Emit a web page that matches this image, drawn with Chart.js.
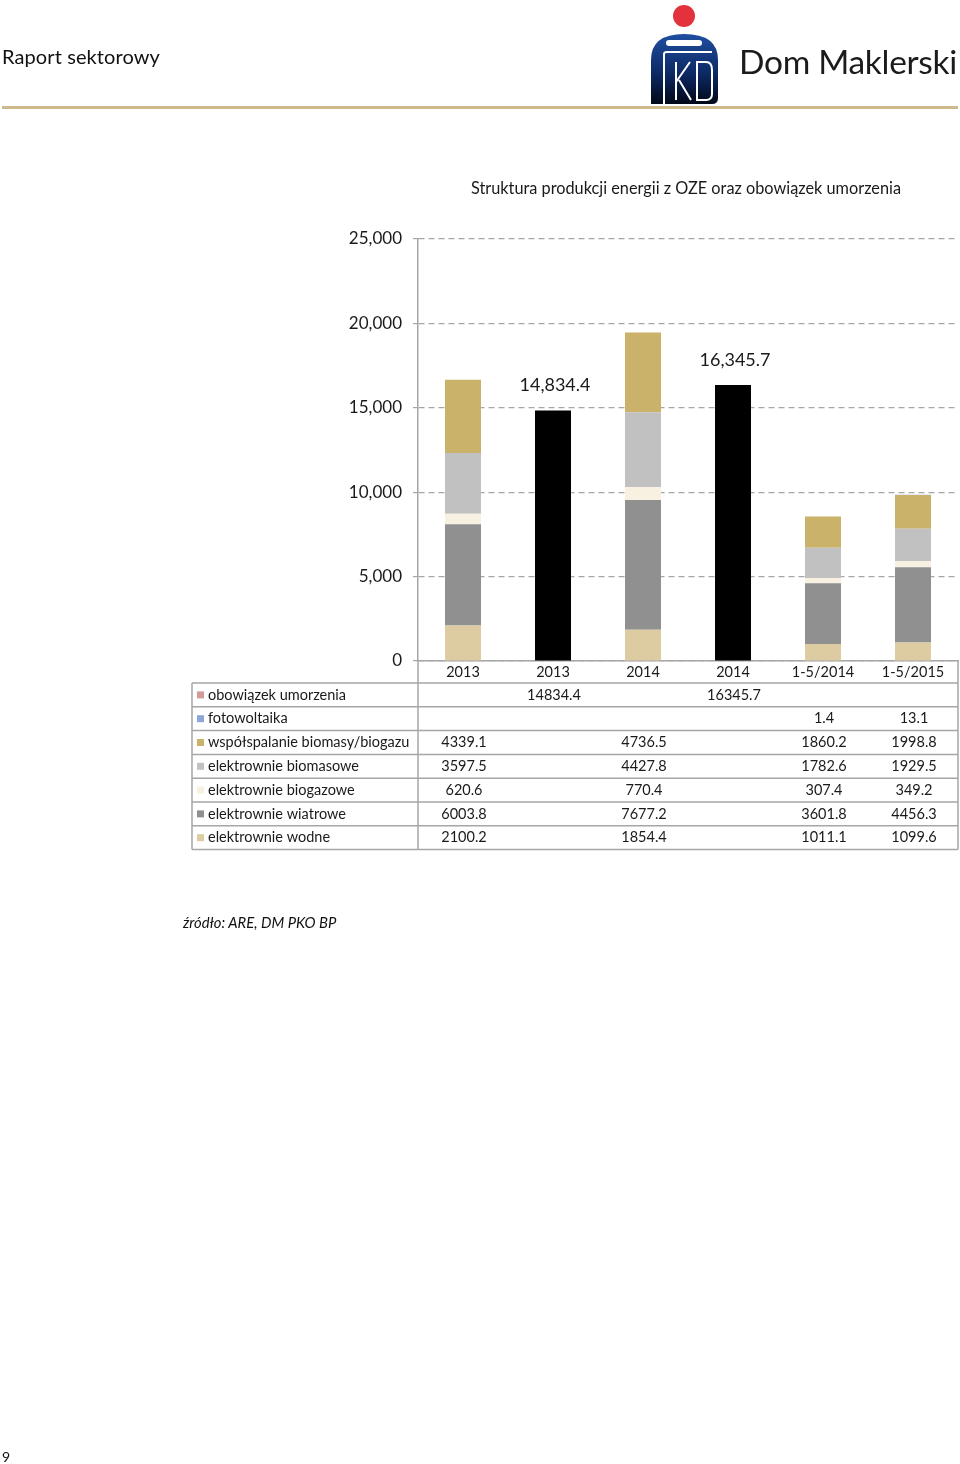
<!DOCTYPE html>
<html>
<head>
<meta charset="utf-8">
<script src="https://cdn.jsdelivr.net/npm/chart.js@4"></script>
<style>
  html, body { margin:0; padding:0; background:#fff; }
  body { width:960px; height:1464px; position:relative; overflow:hidden; font-family:Lato, "Open Sans", sans-serif; color:#1a1a1a; }
  #c { position:absolute; left:0; top:0; }
  .hdr { position:absolute; left:2px; top:44px; font-size:20px; letter-spacing:0.1px; color:#111; }
  .dm { position:absolute; left:739px; top:41px; font-size:33.5px; color:#1b1b1b; letter-spacing:-0.3px; }
  .rule { position:absolute; left:2px; top:106px; width:956px; height:3px; background:#cdb98a; }
  .src { position:absolute; left:183px; top:913px; font-size:14.8px; font-style:italic; color:#111; }
  .pg { position:absolute; left:2px; top:1448px; font-size:14px; color:#111; }
  svg { position:absolute; left:0; top:0; }
</style>
</head>
<body>
<canvas id="c" width="960" height="1464"></canvas>
<div class="hdr">Raport sektorowy</div>
<svg width="960" height="112">
  <defs>
    <linearGradient id="g" x1="0" y1="0" x2="0" y2="1">
      <stop offset="0" stop-color="#1f4fa0"/>
      <stop offset="0.55" stop-color="#0d2a66"/>
      <stop offset="1" stop-color="#020818"/>
    </linearGradient>
  </defs>
  <circle cx="684" cy="16" r="11" fill="#e3323b"/>
  <path d="M651,104 L651,60 Q651,34 684,34 Q718,34 718,60 L718,98 Q718,104 712,104 Z" fill="url(#g)"/>
  <rect x="666" y="40" width="36" height="6" rx="3" fill="#fff"/>
  <path d="M664,104 L664,54 Q664,52 667,52 L712,52" stroke="#fff" stroke-width="2" fill="none"/>
  <path d="M676,62 L676,100 M676,82 L690,62 M679,80 L691,100" stroke="#fff" stroke-width="2" fill="none"/>
  <path d="M697,62 L706,62 Q712,62 712,70 L712,94 Q712,100 706,100 L697,100 Z" stroke="#fff" stroke-width="2" fill="none"/>
</svg>
<div class="dm">Dom Maklerski</div>
<div class="rule"></div>
<div class="src">źródło: ARE, DM PKO BP</div>
<div class="pg">9</div>
<script>
// ---- data ----
const categories = ["2013", "2013", "2014", "2014", "1-5/2014", "1-5/2015"];
const obowiazekUmorzenia = [null, 14834.4, null, 16345.7, null, null];
const fotowoltaika = [null, null, null, null, 1.4, 13.1];
const wspolspalanie = [4339.1, null, 4736.5, null, 1860.2, 1998.8];
const elektrownieBiomasowe = [3597.5, null, 4427.8, null, 1782.6, 1929.5];
const elektrownieBiogazowe = [620.6, null, 770.4, null, 307.4, 349.2];
const elektrownieWiatrowe = [6003.8, null, 7677.2, null, 3601.8, 4456.3];
const elektrownieWodne = [2100.2, null, 1854.4, null, 1011.1, 1099.6];
const yTicks = [0, 5000, 10000, 15000, 20000, 25000];
const chartTitle = "Struktura produkcji energii z OZE oraz obowiązek umorzenia";

// stacking order: bottom -> top
const seriesDefs = [
  { label: "elektrownie wodne", data: elektrownieWodne, color: "#ddcba2", swatch: "#ddcba2" },
  { label: "elektrownie wiatrowe", data: elektrownieWiatrowe, color: "#909090", swatch: "#909090" },
  { label: "elektrownie biogazowe", data: elektrownieBiogazowe, color: "#f8f0e1", swatch: "#f8f0e1" },
  { label: "elektrownie biomasowe", data: elektrownieBiomasowe, color: "#c1c1c1", swatch: "#c1c1c1" },
  { label: "współspalanie biomasy/biogazu", data: wspolspalanie, color: "#cab26b", swatch: "#cab26b" },
  { label: "fotowoltaika", data: fotowoltaika, color: "#8ea6d6", swatch: "#8ea6d6" },
  { label: "obowiązek umorzenia", data: obowiazekUmorzenia, color: "#000000", swatch: "#d49a98" }
];

const FONT = "Lato, 'Open Sans', sans-serif";
const GRID = "#a6a6a6";

const fmtComma = v => v.toLocaleString("en-US");

const titlePlugin = {
  id: "titleText",
  afterDraw(chart) {
    const { ctx, chartArea } = chart;
    ctx.save();
    ctx.font = "16.3px " + FONT;
    ctx.fillStyle = "#1a1a1a";
    ctx.textAlign = "center";
    ctx.textBaseline = "middle";
    ctx.fillText(chartTitle, (chartArea.left + chartArea.right) / 2 - 2, chartArea.top - 50);
    ctx.restore();
  }
};

const labelPlugin = {
  id: "barLabels",
  afterDatasetsDraw(chart) {
    const { ctx } = chart;
    const dsIndex = chart.data.datasets.length - 1;
    const meta = chart.getDatasetMeta(dsIndex);
    ctx.save();
    ctx.font = "18px " + FONT;
    ctx.fillStyle = "#1a1a1a";
    ctx.textAlign = "center";
    ctx.textBaseline = "bottom";
    meta.data.forEach((el, i) => {
      const v = chart.data.datasets[dsIndex].data[i];
      if (v == null) return;
      ctx.fillText(fmtComma(v), el.x + 2, el.y - 16);
    });
    ctx.restore();
  }
};

const tablePlugin = {
  id: "dataTable",
  afterDraw(chart) {
    const { ctx, chartArea, scales } = chart;
    const x = scales.x;
    const leftX = 192, rightX = chartArea.right;
    const headBottom = chartArea.bottom + 22;
    const rowH = 23.8;
    const rows = seriesDefs.slice().reverse();
    const bottom = headBottom + rows.length * rowH;
    ctx.save();
    ctx.strokeStyle = GRID;
    ctx.lineWidth = 1.5;
    ctx.beginPath();
    for (let i = 0; i <= rows.length; i++) {
      const y = headBottom + i * rowH;
      ctx.moveTo(leftX, y); ctx.lineTo(rightX, y);
    }
    ctx.moveTo(leftX, headBottom); ctx.lineTo(leftX, bottom);
    ctx.moveTo(chartArea.left, chartArea.bottom); ctx.lineTo(chartArea.left, bottom);
    ctx.moveTo(rightX, chartArea.bottom); ctx.lineTo(rightX, bottom);
    ctx.stroke();

    ctx.font = "14.5px " + FONT;
    ctx.fillStyle = "#1a1a1a";
    ctx.textBaseline = "middle";
    rows.forEach((r, i) => {
      const cy = headBottom + i * rowH + rowH / 2;
      ctx.fillStyle = r.swatch;
      ctx.fillRect(197, cy - 3.5, 7, 7);
      ctx.fillStyle = "#1a1a1a";
      ctx.textAlign = "left";
      ctx.fillText(r.label, 208, cy);
      ctx.textAlign = "center";
      r.data.forEach((v, j) => {
        if (v == null) return;
        ctx.fillText(v.toFixed(1), x.getPixelForValue(j) + 1, cy);
      });
    });
    ctx.restore();
  }
};

new Chart(document.getElementById("c"), {
  type: "bar",
  data: {
    labels: categories,
    datasets: seriesDefs.map(s => ({
      label: s.label,
      data: s.data,
      backgroundColor: s.color,
      borderWidth: 0,
      stack: "s",
      categoryPercentage: 0.8,
      barPercentage: 0.5
    }))
  },
  options: {
    responsive: false,
    devicePixelRatio: 1,
    animation: false,
    layout: { padding: { top: 239, left: 0, right: 2, bottom: 1464 - 661 - 22 } },
    plugins: {
      legend: { display: false },
      tooltip: { enabled: false },
      title: { display: false }
    },
    scales: {
      x: {
        stacked: true,
        grid: { display: false, drawTicks: false },
        border: { display: true, color: GRID, width: 1.5 },
        ticks: { font: { family: FONT, size: 14.5 }, color: "#1a1a1a", padding: 3, maxRotation: 0 },
        afterFit(s) { s.height = 22; }
      },
      y: {
        stacked: true,
        min: 0,
        max: 25000,
        afterBuildTicks(s) { s.ticks = yTicks.map(v => ({ value: v })); },
        grid: { color: GRID, lineWidth: 1.2, tickLength: 5, tickBorderDash: [] },
        border: { display: true, color: GRID, width: 1.5, dash: [6, 4] },
        ticks: {
          font: { family: FONT, size: 17 },
          color: "#1a1a1a",
          padding: 11,
          callback: v => fmtComma(v)
        },
        afterFit(s) { s.width = 418; }
      }
    }
  },
  plugins: [titlePlugin, labelPlugin, tablePlugin]
});
</script>
</body>
</html>
